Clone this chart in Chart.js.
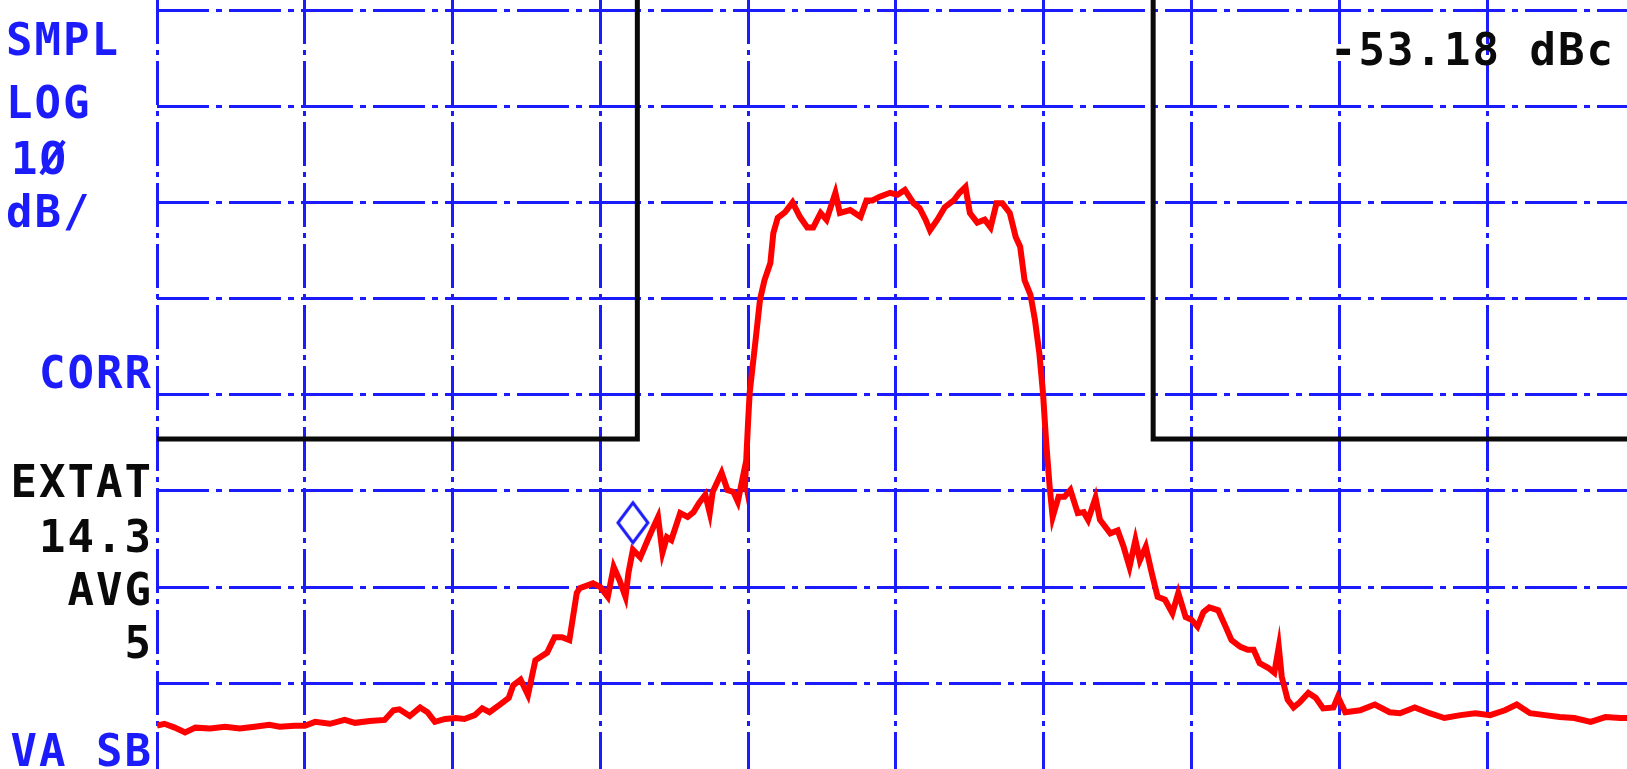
<!DOCTYPE html>
<html>
<head>
<meta charset="utf-8">
<script src="https://cdn.jsdelivr.net/npm/chart.js@4.4.1/dist/chart.umd.min.js"></script>
<style>
  html, body { margin: 0; padding: 0; background: #fff; overflow: hidden; }
  canvas { display: block; }
</style>
</head>
<body>
<canvas id="spectrum" width="1627" height="769"></canvas>
<script>
//********************
// DATA
//********************
// x in graticule divisions from the left edge, y in dB below the reference line (10 dB/div)
const freqDiv = [
  0.00, 0.05, 0.12, 0.19, 0.26, 0.36, 0.46, 0.56, 0.66, 0.76, 0.83, 0.93, 1.00, 1.07, 1.17, 1.27, 1.34, 1.44, 1.54, 1.60,
  1.64, 1.71, 1.78, 1.83, 1.88, 1.95, 2.02, 2.08, 2.15, 2.20, 2.25, 2.32, 2.38, 2.41, 2.46, 2.51, 2.56, 2.64, 2.69, 2.74,
  2.79, 2.84, 2.86, 2.95, 3.00, 3.05, 3.09, 3.13, 3.17, 3.19, 3.22, 3.27, 3.32, 3.36, 3.39, 3.42, 3.45, 3.48, 3.54, 3.59,
  3.63, 3.67, 3.71, 3.74, 3.76, 3.82, 3.86, 3.90, 3.93, 3.97, 3.98, 4.00, 4.01, 4.05, 4.08, 4.11, 4.15, 4.17, 4.20, 4.25,
  4.30, 4.35, 4.40, 4.44, 4.49, 4.53, 4.59, 4.62, 4.69, 4.76, 4.80, 4.84, 4.89, 4.96, 5.01, 5.06, 5.12, 5.16, 5.20, 5.23,
  5.28, 5.33, 5.39, 5.43, 5.47, 5.50, 5.55, 5.60, 5.64, 5.68, 5.72, 5.77, 5.81, 5.84, 5.87, 5.91, 5.94, 5.97, 5.995, 6.015,
  6.04, 6.06, 6.10, 6.14, 6.18, 6.23, 6.27, 6.30, 6.35, 6.38, 6.45, 6.50, 6.54, 6.58, 6.62, 6.65, 6.69, 6.73, 6.77, 6.82,
  6.87, 6.91, 6.96, 7.00, 7.04, 7.08, 7.12, 7.18, 7.23, 7.27, 7.33, 7.38, 7.42, 7.46, 7.52, 7.56, 7.59, 7.61, 7.65, 7.69,
  7.73, 7.79, 7.84, 7.89, 7.96, 7.99, 8.04, 8.14, 8.24, 8.34, 8.41, 8.51, 8.61, 8.71, 8.82, 8.92, 9.02, 9.12, 9.20, 9.29,
  9.39, 9.49, 9.59, 9.70, 9.80, 9.90, 9.95
];
const traceDb = [
  -74.4, -74.2, -74.6, -75.1, -74.6, -74.7, -74.5, -74.7, -74.5, -74.3, -74.5, -74.4, -74.4, -74.0, -74.2, -73.8, -74.1, -73.9, -73.8, -72.8,
  -72.7, -73.4, -72.5, -73.0, -74.0, -73.7, -73.6, -73.7, -73.3, -72.6, -73.0, -72.2, -71.5, -70.2, -69.6, -71.2, -67.6, -66.8, -65.2, -65.2,
  -65.5, -60.6, -60.1, -59.6, -60.0, -61.0, -57.9, -59.3, -61.0, -58.5, -56.1, -56.9, -55.1, -53.7, -52.7, -56.4, -54.8, -55.1, -52.3, -52.7,
  -52.2, -51.2, -50.4, -52.3, -50.1, -48.1, -49.9, -50.1, -51.1, -48.1, -48.9, -42.6, -39.8, -34.3, -30.1, -28.1, -26.3, -23.2, -21.6, -21.0,
  -20.0, -21.5, -22.6, -22.6, -21.1, -21.8, -19.0, -21.1, -20.8, -21.5, -19.8, -19.8, -19.4, -19.0, -19.2, -18.7, -20.1, -20.6, -21.8, -22.9,
  -21.8, -20.5, -19.8, -19.0, -18.4, -21.1, -22.1, -21.8, -22.6, -20.1, -20.1, -21.1, -23.6, -24.6, -28.1, -29.6, -32.2, -35.7, -39.9, -44.7,
  -49.6, -52.7, -50.6, -50.6, -49.9, -52.3, -52.2, -53.0, -50.7, -53.0, -54.4, -54.1, -55.8, -57.9, -55.1, -57.2, -55.8, -58.5, -61.0, -61.3,
  -62.7, -60.6, -63.1, -63.4, -64.1, -62.6, -62.1, -62.4, -64.1, -65.5, -66.2, -66.5, -66.5, -67.9, -68.4, -68.9, -66.2, -69.3, -71.7, -72.5,
  -72.0, -71.0, -71.5, -72.6, -72.5, -71.4, -73.0, -72.8, -72.2, -73.0, -73.1, -72.5, -73.1, -73.6, -73.3, -73.1, -73.3, -72.8, -72.2, -73.1,
  -73.3, -73.5, -73.6, -74.0, -73.5, -73.6, -73.6
];

// graticule lines
const xTicks = [0, 1, 2, 3, 4, 5, 6, 7, 8, 9];
const yTicks = [-70, -60, -50, -40, -30, -20, -10, 0];

// limit mask (black)
const limitLeftX = [0, 3.25, 3.25];
const limitLeftY = [-44.6, -44.6, 1.1];
const limitRightX = [6.74, 6.74, 9.95];
const limitRightY = [1.1, -44.6, -44.6];

// marker
const markerX = [3.22];
const markerY = [-53.3];

// annotation texts around the screen
const leftLabels = ["SMPL", "LOG", "1Ø", "dB/"];
const sideLabels = ["CORR", "EXTAT", "14.3", "AVG", "5"];
const bottomLabel = "VA SB";
const readout = "-53.18 dBc";

const X_MAX = 9.946;
const Y_MAX = 1.04;
const Y_MIN = -78.9;

const BLUE = "rgb(28, 28, 250)";
const RED = "rgb(255, 0, 0)";
const BLACK = "rgb(10, 10, 10)";

function toPoints(xs, ys) {
  return xs.map((x, i) => ({ x: x, y: ys[i] }));
}

// hollow diamond used as the marker symbol
function diamond() {
  const c = document.createElement("canvas");
  c.width = 36;
  c.height = 46;
  const g = c.getContext("2d");
  g.strokeStyle = BLUE;
  g.lineWidth = 3;
  g.beginPath();
  g.moveTo(18, 3);
  g.lineTo(33, 23);
  g.lineTo(18, 43);
  g.lineTo(3, 23);
  g.closePath();
  g.stroke();
  return c;
}

//********************
// TEXT OVERLAY
//********************
const screenText = {
  id: "screenText",
  afterDraw(chart) {
    const ctx = chart.ctx;
    const spacing = 2;
    ctx.save();
    ctx.font = "bold 44px 'DejaVu Sans Mono'";
    ctx.letterSpacing = spacing + "px";
    ctx.textBaseline = "alphabetic";
    ctx.textAlign = "left";

    const right = (t, r, y) => {
      const w = ctx.measureText(t).width - spacing;
      ctx.fillText(t, r - w, y);
    };

    ctx.fillStyle = BLUE;
    const leftY = [55, 118, 174, 227];
    const leftX = [6, 6, 11, 6];
    leftLabels.forEach((t, i) => ctx.fillText(t, leftX[i], leftY[i]));

    const sideY = [388, 497, 552, 605, 658];
    const sideColor = [BLUE, BLACK, BLACK, BLACK, BLACK];
    sideLabels.forEach((t, i) => {
      ctx.fillStyle = sideColor[i];
      right(t, 151, sideY[i]);
    });

    ctx.fillStyle = BLUE;
    right(bottomLabel, 151, 766);

    ctx.fillStyle = BLACK;
    ctx.fillText(readout, 1330, 65);
    ctx.restore();
  }
};

//********************
// CHART
//********************
const ctx = document.getElementById("spectrum");
const spectrum = new Chart(ctx, {
  type: "line",
  data: {
    datasets: [
      {
        label: "marker",
        type: "scatter",
        data: toPoints(markerX, markerY),
        pointStyle: diamond(),
        pointRadius: 20,
        showLine: false
      },
      {
        label: "trace",
        data: toPoints(freqDiv, traceDb),
        borderColor: RED,
        borderWidth: 6,
        pointRadius: 0,
        tension: 0,
        fill: false
      },
      {
        label: "limit left",
        data: toPoints(limitLeftX, limitLeftY),
        borderColor: BLACK,
        borderWidth: 5,
        pointRadius: 0,
        tension: 0,
        fill: false
      },
      {
        label: "limit right",
        data: toPoints(limitRightX, limitRightY),
        borderColor: BLACK,
        borderWidth: 5,
        pointRadius: 0,
        tension: 0,
        fill: false
      }
    ]
  },
  options: {
    responsive: false,
    animation: false,
    layout: { autoPadding: false, padding: { left: 157, right: 0, top: 0, bottom: 0 } },
    plugins: {
      legend: { display: false },
      tooltip: { enabled: false }
    },
    scales: {
      x: {
        type: "linear",
        min: 0,
        max: X_MAX,
        afterBuildTicks: (scale) => { scale.ticks = xTicks.map(v => ({ value: v })); },
        ticks: { display: false },
        grid: { color: BLUE, lineWidth: 3, drawTicks: false },
        border: { display: false, dash: [44, 6, 5, 6] }
      },
      y: {
        type: "linear",
        min: Y_MIN,
        max: Y_MAX,
        afterBuildTicks: (scale) => { scale.ticks = yTicks.map(v => ({ value: v })); },
        ticks: { display: false },
        grid: { color: BLUE, lineWidth: 3, drawTicks: false },
        border: { display: false, dash: [52, 7, 6, 7] }
      }
    }
  },
  plugins: [screenText]
});
</script>
</body>
</html>
